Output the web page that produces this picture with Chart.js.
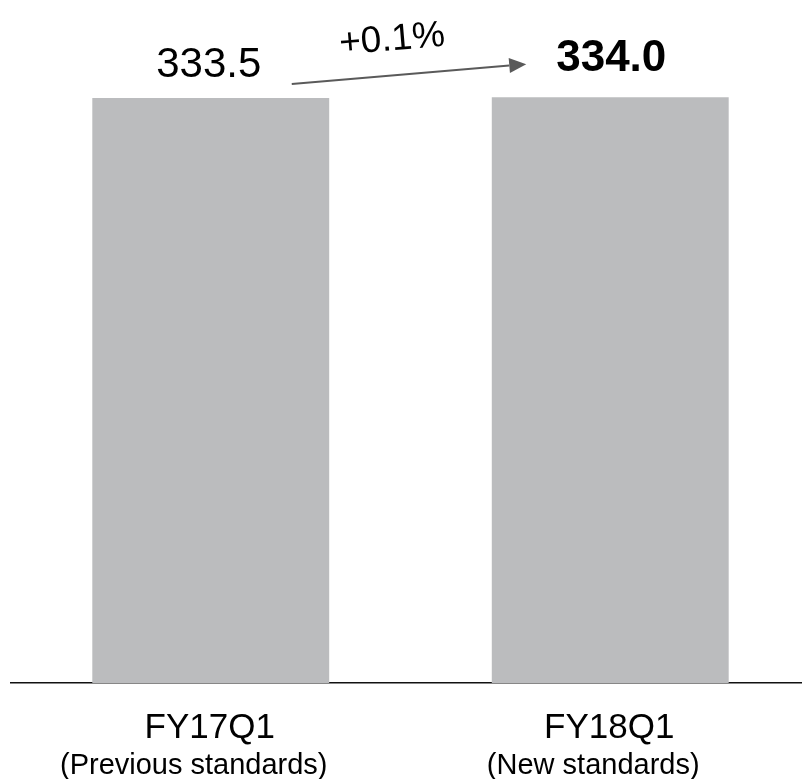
<!DOCTYPE html>
<html>
<head>
<meta charset="utf-8">
<style>
  html, body { margin: 0; padding: 0; background: #ffffff; }
  #wrap { width: 802px; height: 779px; position: relative; }
</style>
<script src="https://cdn.jsdelivr.net/npm/chart.js@4.4.1/dist/chart.umd.min.js"></script>
</head>
<body>
<div id="wrap"><canvas id="chart" width="802" height="779"></canvas></div>
<script>
// Quarterly figures, old vs new accounting standards
const periods = ['FY17Q1', 'FY18Q1'];
const standards = ['(Previous standards)', '(New standards)'];
const values = [333.5, 334.0];
const valueLabels = ['333.5', '334.0'];
const changeLabel = '+0.1%';

const FONT = '"Liberation Sans", Arial, Helvetica, sans-serif';

// Draws value labels, the growth arrow and the two-line period labels
const annotations = {
  id: 'annotations',
  afterDatasetsDraw(chart) {
    const { ctx, scales: { x, y } } = chart;
    ctx.save();
    ctx.fillStyle = '#000';
    ctx.textAlign = 'center';
    ctx.textBaseline = 'alphabetic';

    // value labels above the bars; the latest period is bold
    const x0 = x.getPixelForValue(0), x1 = x.getPixelForValue(1);
    const y0 = y.getPixelForValue(values[0]), y1 = y.getPixelForValue(values[1]);
    ctx.font = '42px ' + FONT;
    ctx.fillText(valueLabels[0], x0 - 2, y0 - 21);
    ctx.font = 'bold 44px ' + FONT;
    ctx.fillText(valueLabels[1], x1 + 1, y1 - 26);

    // growth arrow between the two labels
    const ax0 = x0 + 81, ay0 = y0 - 14;
    const ax1 = x1 - 84, ay1 = y1 - 33;
    const ang = Math.atan2(ay1 - ay0, ax1 - ax0);
    const head = 17, half = 7.5;
    const bx = ax1 - head * Math.cos(ang), by = ay1 - head * Math.sin(ang);
    ctx.strokeStyle = '#5a5a5a';
    ctx.fillStyle = '#5a5a5a';
    ctx.lineWidth = 2;
    ctx.beginPath();
    ctx.moveTo(ax0, ay0);
    ctx.lineTo(bx, by);
    ctx.stroke();
    ctx.beginPath();
    ctx.moveTo(ax1, ay1);
    ctx.lineTo(bx + half * Math.sin(ang), by - half * Math.cos(ang));
    ctx.lineTo(bx - half * Math.sin(ang), by + half * Math.cos(ang));
    ctx.closePath();
    ctx.fill();

    // percentage change, tilted along the arrow
    ctx.save();
    ctx.translate((ax0 + ax1) / 2 - 16, (ay0 + ay1) / 2 - 24);
    ctx.rotate(ang);
    ctx.fillStyle = '#000';
    ctx.font = '37px ' + FONT;
    ctx.fillText(changeLabel, 0, 0);
    ctx.restore();

    // period labels under the axis
    const base = chart.chartArea.bottom;
    periods.forEach((p, i) => {
      const px = x.getPixelForValue(i);
      ctx.fillStyle = '#000';
      ctx.font = '35px ' + FONT;
      ctx.fillText(p, px - 1, base + 55);
      ctx.font = '29px ' + FONT;
      ctx.fillText(standards[i], px - 17, base + 91);
    });
    ctx.restore();
  }
};

new Chart(document.getElementById('chart'), {
  type: 'bar',
  data: {
    datasets: [{
      data: values.map((v, i) => ({ x: i, y: v })),
      backgroundColor: '#bbbcbe',
      borderWidth: 0,
      categoryPercentage: 1,
      barPercentage: 0.593
    }]
  },
  options: {
    responsive: false,
    animation: false,
    devicePixelRatio: 1,
    layout: { padding: { left: 11, right: 0, top: 34, bottom: 96 } },
    plugins: { legend: { display: false }, tooltip: { enabled: false } },
    scales: {
      x: {
        type: 'linear',
        offset: false,
        min: -0.5,
        max: 1.48,
        // one tick per period so bar widths follow the period spacing
        afterBuildTicks: (scale) => { scale.ticks = periods.map((_, i) => ({ value: i })); },
        grid: { display: false, drawTicks: false, offset: false },
        ticks: { display: false },
        border: { display: true, color: '#111', width: 1.5 }
      },
      y: {
        display: false,
        min: 0,
        max: 370
      }
    }
  },
  plugins: [annotations]
});
</script>
</body>
</html>
